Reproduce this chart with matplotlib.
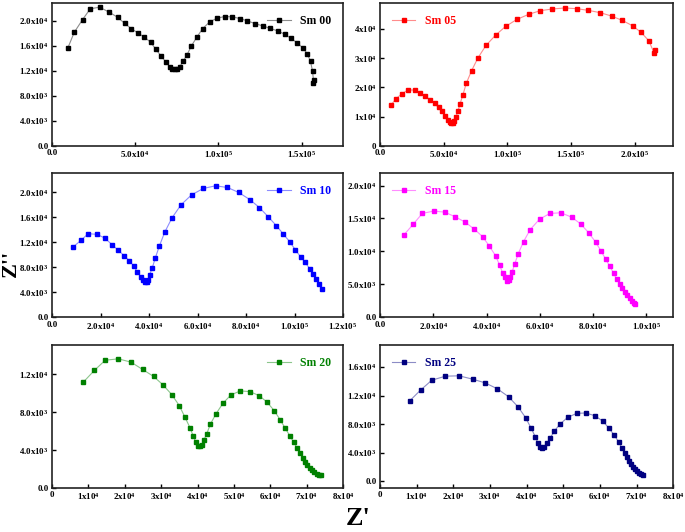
import numpy as np
import matplotlib
matplotlib.use("Agg")
import matplotlib.pyplot as plt
from matplotlib.ticker import FuncFormatter
from matplotlib.colors import to_rgb

plt.rcParams['font.family'] = ['Liberation Serif', 'DejaVu Serif']
plt.rcParams['font.weight'] = 'bold'
plt.rcParams['mathtext.fontset'] = 'custom'
plt.rcParams['mathtext.rm'] = 'Liberation Serif:bold'
plt.rcParams['mathtext.it'] = 'Liberation Serif:italic:bold'
plt.rcParams['mathtext.bf'] = 'Liberation Serif:bold'

# Nyquist data, Z' and Z'' (ohm)
sm00_x = [9600, 13400, 18400, 23000, 28600, 34400, 39400, 43600, 47600, 51600, 55600, 59400,
          62400, 65600, 68400, 70800, 72400, 74000, 75200, 76800, 78800, 81200, 83800, 87000,
          90600, 94800, 99200, 103800, 108400, 113000, 117400, 122000, 126600, 131000, 135600,
          140000, 143600, 147200, 150600, 153400, 155400, 156600, 157200, 157000]
sm00_y = [15680, 18130, 20160, 21870, 22130, 21330, 20530, 19570, 18720, 18030, 17330, 16530,
          15410, 14350, 13390, 12640, 12210, 12210, 12270, 12640, 13490, 14560, 15950, 17330,
          18720, 19790, 20370, 20640, 20590, 20320, 19950, 19520, 19150, 18770, 18350,
          17810, 17170, 16480, 15680, 14720, 13490, 11950, 10450, 10030]

sm05_x = [8630, 12550, 17250, 21960, 27190, 31630, 35550, 39210, 42870, 46010, 48880, 51240,
          53070, 54630, 55940, 57250, 58290, 59600, 61170, 62740, 65090, 67700, 71890, 76850,
          83130, 90710, 98550, 107440, 116590, 125740, 135150, 144820, 154230, 163380, 172790,
          181680, 190040, 198150, 204940, 210960, 214880, 215660]
sm05_y = [13940, 16110, 17830, 19090, 19090, 18170, 17030, 15770, 14510, 13140, 11890, 10290,
          9030, 8110, 7770, 7890, 8460, 9940, 11890, 14290, 17490, 21370, 25710, 30060,
          34290, 37830, 40800, 43200, 44910, 46170, 46740, 47090, 46860, 46290, 45490,
          44340, 42860, 41030, 38740, 35890, 31890, 32910]

sm10_x = [8490, 11920, 14930, 18500, 21780, 24930, 27400, 29730, 31920, 33700, 35070, 36580,
          37400, 38220, 39050, 39730, 40280, 41370, 42610, 44250, 46440, 49460, 53160, 57540,
          62340, 67400, 72340, 76990, 81520, 85490, 89190, 92480, 95350, 98090, 100280,
          102480, 104390, 106180, 107680, 108920, 110150, 111110]
sm10_y = [11150, 12270, 13350, 13240, 12650, 11520, 10670, 9810, 9010, 8150, 7290, 6430,
          5900, 5630, 5570, 5900, 6810, 7930, 9490, 11360, 13560, 15870, 17960, 19560,
          20580, 21010, 20740, 19940, 18810, 17530, 16030, 14630, 13290, 12010, 10770,
          9650, 8740, 7770, 6910, 6110, 5310, 4500]

sm15_x = [9000, 12500, 15880, 20130, 24250, 28250, 32000, 35250, 38500, 41000, 43380, 44880,
          46000, 46750, 47500, 48250, 48880, 49500, 50500, 51880, 53880, 56380, 59880, 63750,
          67880, 71880, 75250, 78250, 80880, 83000, 84750, 86250, 87630, 88750, 89880,
          90880, 91880, 92750, 93630, 94380, 95130, 95750]
sm15_y = [12500, 14130, 15760, 16120, 15960, 15250, 14430, 13410, 12240, 10810, 9330, 7910,
          6730, 6020, 5560, 5610, 6020, 6780, 8010, 9640, 11480, 13310, 14890, 15760,
          15860, 15200, 14180, 12850, 11420, 10000, 8770, 7700, 6680, 5810, 5100,
          4440, 3830, 3320, 2860, 2450, 2140, 1990]

sm20_x = [8640, 11640, 14640, 18270, 21730, 24910, 27910, 30450, 32910, 35000, 36550, 37910,
          38820, 39550, 40090, 40730, 41180, 41730, 42550, 43550, 45090, 47000, 49180, 51730,
          54360, 56910, 59090, 61090, 62730, 64090, 65360, 66450, 67360, 68180, 68910,
          69550, 70180, 70820, 71450, 72090, 72730, 73360, 73910]
sm20_y = [11170, 12390, 13470, 13610, 13260, 12490, 11760, 10890, 9850, 8670, 7450, 6370,
          5460, 4800, 4420, 4390, 4560, 5050, 5740, 6750, 7830, 8940, 9810, 10230,
          10160, 9740, 9050, 8140, 7170, 6300, 5500, 4800, 4210, 3690, 3200,
          2780, 2440, 2120, 1880, 1670, 1500, 1390, 1360]

sm25_x = [8160, 11070, 14150, 17870, 21590, 25310, 28660, 32020, 35100, 37730, 39730, 41270,
          42360, 43080, 43720, 44260, 44720, 45530, 46440, 47620, 49160, 51250, 53690, 56140,
          58590, 60860, 62490, 63940, 65120, 66030, 66760, 67390, 67930, 68480, 69020,
          69570, 70110, 70660, 71200, 71650]
sm25_y = [11280, 12760, 14150, 14710, 14760, 14290, 13780, 12950, 11830, 10390, 8910, 7420,
          6260, 5380, 4870, 4690, 4780, 5340, 6080, 7050, 8030, 8960, 9510, 9560,
          9190, 8400, 7420, 6450, 5520, 4640, 3940, 3340, 2830, 2410, 2040,
          1720, 1440, 1210, 1020, 930]

labels = ['Sm 00', 'Sm 05', 'Sm 10', 'Sm 15', 'Sm 20', 'Sm 25']
colors = ['#000000', '#ff0000', '#0000ff', '#ff00ff', '#008000', '#000080']


def sci_fmt(dec, zero='0.0'):
    def f(v, pos):
        if abs(v) < 1e-9:
            return zero
        e = int(np.floor(np.log10(abs(v)) + 1e-9))
        m = v / 10 ** e
        return f'{m:.{dec}f}x10$^{{{e}}}$'
    return FuncFormatter(f)


def lighter(c, k=0.55):
    r, g, b = to_rgb(c)
    return (r + (1 - r) * k, g + (1 - g) * k, b + (1 - b) * k)


fig = plt.figure(figsize=(6.85, 5.32), dpi=100)

panels = [
    # data, axes rect, xlim, ylim, xticks, yticks, x fmt, y fmt, legend loc
    (sm00_x, sm00_y, [0.0759, 0.7256, 0.425, 0.2688], (0, 175000), (0, 22800),
     np.arange(0, 150001, 50000), np.arange(0, 20001, 4000), sci_fmt(1), sci_fmt(1), 'upper right'),
    (sm05_x, sm05_y, [0.5547, 0.7256, 0.428, 0.2688], (0, 230000), (0, 48800),
     np.arange(0, 200001, 50000), np.arange(0, 40001, 10000), sci_fmt(1), sci_fmt(0, '0'), 'upper left'),
    (sm10_x, sm10_y, [0.0759, 0.404, 0.425, 0.2707], (0, 120000), (0, 23050),
     np.arange(0, 120001, 20000), np.arange(0, 20001, 4000), sci_fmt(1), sci_fmt(1), 'upper right'),
    (sm15_x, sm15_y, [0.5547, 0.404, 0.428, 0.2707], (0, 110000), (0, 21900),
     np.arange(0, 100001, 20000), np.arange(0, 20001, 5000), sci_fmt(1), sci_fmt(1), 'upper left'),
    (sm20_x, sm20_y, [0.0759, 0.0827, 0.425, 0.2688], (0, 80000), (0, 15070),
     np.arange(0, 80001, 10000), np.arange(0, 12001, 4000), sci_fmt(0, '0'), sci_fmt(1), 'upper right'),
    (sm25_x, sm25_y, [0.5547, 0.0827, 0.428, 0.2688], (0, 80000), (-930, 19070),
     np.arange(0, 80001, 10000), np.arange(0, 16001, 4000), sci_fmt(0, '0'), sci_fmt(1), 'upper left'),
]

for (x, y, rect, xl, yl, xt, yt, xf, yf, loc), lab, c in zip(panels, labels, colors):
    ax = fig.add_axes(rect)
    ax.plot(x, y, '-s', color=lighter(c), lw=0.8, ms=3.1,
            markerfacecolor=c, markeredgecolor=c, label=lab)
    ax.set_xlim(*xl)
    ax.set_ylim(*yl)
    ax.set_xticks(xt)
    ax.set_yticks(yt)
    ax.xaxis.set_major_formatter(xf)
    ax.yaxis.set_major_formatter(yf)
    ax.tick_params(direction='in', length=3, width=1, labelsize=6.4, pad=2.5)
    for sp in ax.spines.values():
        sp.set_linewidth(1.2)
        sp.set_color('#222222')
    leg = ax.legend(loc=loc, frameon=False, fontsize=8.5, handlelength=2.0,
                    labelcolor='markerfacecolor', borderaxespad=0.6)

fig.text(0.002, 0.505, "Z''", rotation=90, fontsize=16, fontweight='bold',
         ha='left', va='center')
fig.text(0.523, 0.004, "Z'", fontsize=19, fontweight='bold', ha='center', va='bottom')

fig.savefig('out.png', dpi=100)
